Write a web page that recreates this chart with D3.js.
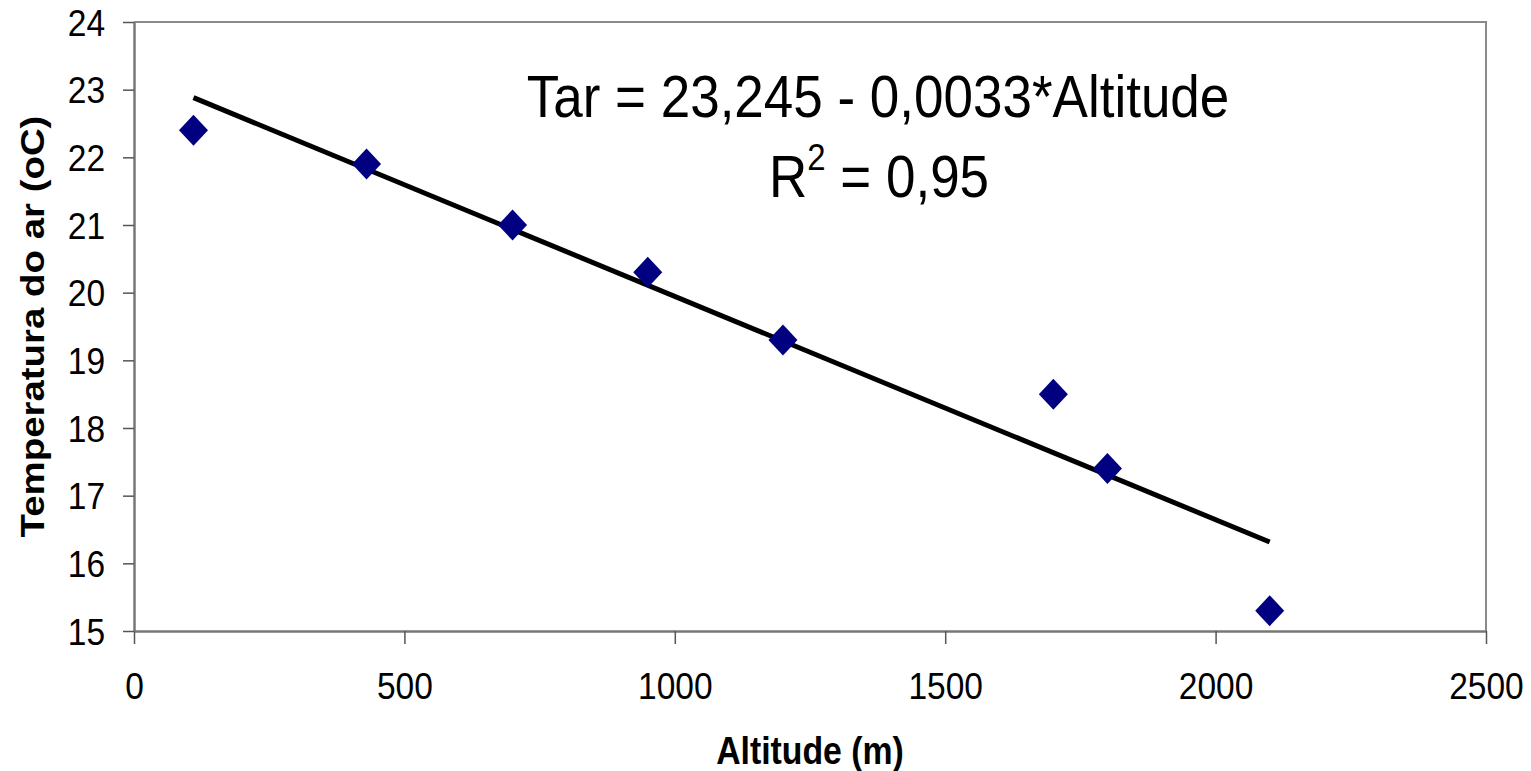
<!DOCTYPE html>
<html>
<head>
<meta charset="utf-8">
<script src="https://cdn.jsdelivr.net/npm/d3@7"></script>
<style>
  body { margin: 0; background: #fff; }
  svg { display: block; font-family: "Liberation Sans", Arial, sans-serif; }
</style>
</head>
<body>
<svg id="chart"></svg>
<script>
// data
const altitude = [110, 430, 700, 950, 1200, 1700, 1800, 2100];
const temperature = [22.4, 21.9, 21.0, 20.3, 19.3, 18.5, 17.4, 15.3];
const xTicks = [0, 500, 1000, 1500, 2000, 2500];
const yTicks = [15, 16, 17, 18, 19, 20, 21, 22, 23, 24];
const fitIntercept = 23.245;
const fitSlope = -0.0033;
const equationLabel = 'Tar = 23,245 - 0,0033*Altitude';
const r2Label = '0,95';

const config = {
    width: 1531,
    height: 771,
    margin: { top: 22, right: 45, bottom: 140, left: 134 }
};
const stretch = 1.13; // the source text is a little taller than wide

const width = config.width - config.margin.left - config.margin.right;
const height = config.height - config.margin.top - config.margin.bottom;

const svg = d3.select('#chart')
    .attr('width', config.width)
    .attr('height', config.height);

const chart = svg.append('g')
    .attr('transform', `translate(${config.margin.left},${config.margin.top})`);

const xScale = d3.scaleLinear().domain([0, 2500]).range([0, width]);
const yScale = d3.scaleLinear().domain([15, 24]).range([height, 0]);

// frame (top and right)
chart.append('path')
    .attr('d', `M0,0H${width}V${height}`)
    .attr('fill', 'none')
    .attr('stroke', '#8a8a8a')
    .attr('stroke-width', 2);

// axes
const xAxisG = chart.append('g')
    .attr('transform', `translate(0,${height})`)
    .call(d3.axisBottom(xScale).tickValues(xTicks).tickFormat(d3.format('d')).tickSize(13).tickSizeOuter(0));
const yAxisG = chart.append('g')
    .call(d3.axisLeft(yScale).tickValues(yTicks).tickSize(11).tickPadding(18).tickSizeOuter(0));

[xAxisG, yAxisG].forEach(g => {
    g.select('.domain').attr('stroke', '#777').attr('stroke-width', 2.5);
    g.selectAll('.tick line').attr('stroke', '#555').attr('stroke-width', 1.5);
    g.selectAll('.tick text')
        .attr('fill', '#000')
        .style('font-size', '33.5px');
});

xAxisG.selectAll('.tick text')
    .attr('y', 68 / stretch)
    .attr('dy', 0)
    .attr('transform', `scale(1,${stretch})`);
yAxisG.selectAll('.tick text')
    .attr('dy', '0.35em')
    .attr('transform', `scale(1,${stretch})`);

// axis titles
svg.append('text')
    .attr('transform', `translate(${config.margin.left + width / 2},764) scale(1,${stretch})`)
    .attr('text-anchor', 'middle')
    .style('font-weight', 'bold')
    .style('font-size', '33.8px')
    .text('Altitude (m)');

svg.append('text')
    .attr('transform', `translate(44,${config.margin.top + height / 2}) rotate(-90) scale(${stretch},1)`)
    .attr('text-anchor', 'middle')
    .style('font-weight', 'bold')
    .style('font-size', '34px')
    .text('Temperatura do ar (oC)');

// trend line
const [xMin, xMax] = d3.extent(altitude);
chart.append('line')
    .attr('x1', xScale(xMin))
    .attr('y1', yScale(fitIntercept + fitSlope * xMin))
    .attr('x2', xScale(xMax))
    .attr('y2', yScale(fitIntercept + fitSlope * xMax))
    .attr('stroke', '#000')
    .attr('stroke-width', 5);

// points
const points = altitude.map((a, i) => ({ a, t: temperature[i] }));
chart.selectAll('path.point')
    .data(points)
    .join('path')
    .attr('class', 'point')
    .attr('d', 'M0,-15.5L14.5,0L0,15.5L-14.5,0Z')
    .attr('transform', d => `translate(${xScale(d.a)},${yScale(d.t)})`)
    .attr('fill', '#000080');

// equation
svg.append('text')
    .attr('transform', `translate(878,117) scale(1,1.1)`)
    .attr('text-anchor', 'middle')
    .style('font-size', '53px')
    .text(equationLabel);

const r2 = svg.append('text')
    .attr('transform', `translate(879,197) scale(1,1.1)`)
    .attr('text-anchor', 'middle')
    .style('font-size', '53px');
r2.append('tspan').text('R');
r2.append('tspan').attr('dy', -25).style('font-size', '33px').text('2');
r2.append('tspan').attr('dy', 25).text(' = ' + r2Label);
</script>
</body>
</html>
